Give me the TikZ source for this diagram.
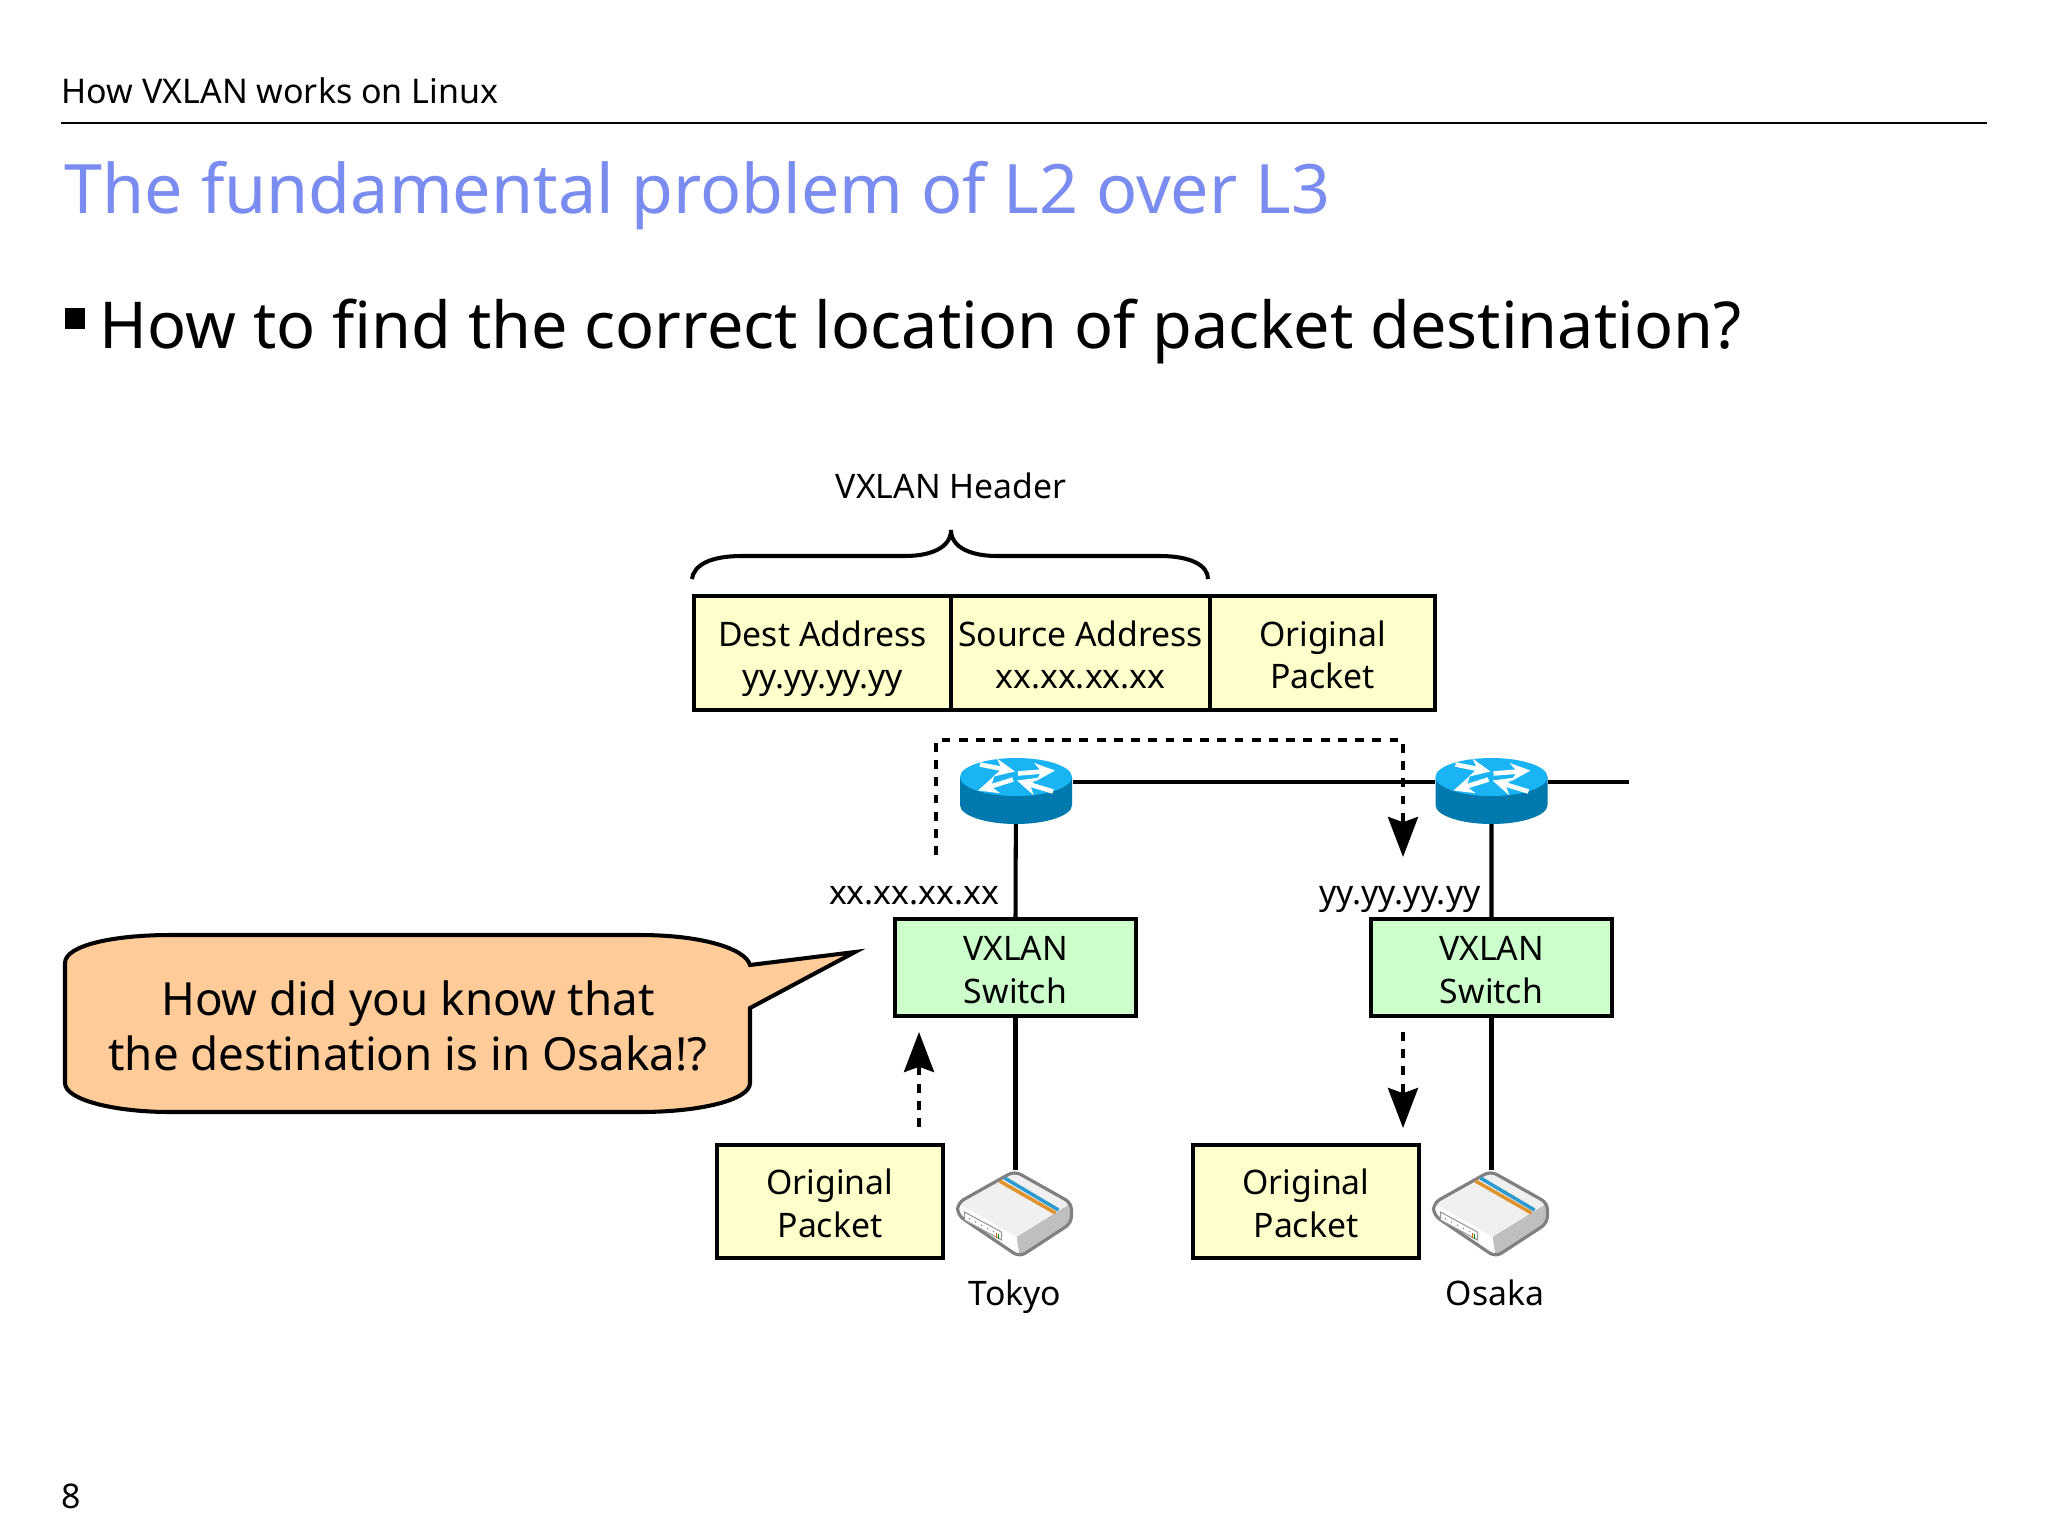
\documentclass[tikz,border=0pt]{standalone}
\usepackage{fontspec}
\setmainfont{Noto Sans}
\usetikzlibrary{arrows.meta}
\definecolor{titleblue}{HTML}{7B8CF0}
\definecolor{boxyellow}{HTML}{FFFFCC}
\definecolor{boxgreen}{HTML}{CCFFCC}
\definecolor{boxorange}{HTML}{FFCC99}
\definecolor{routertop}{HTML}{1AB4F5}
\definecolor{routerside}{HTML}{0079AE}
\definecolor{stripeblue}{HTML}{2E9BD0}
\definecolor{stripeorange}{HTML}{E0922B}
\newcommand{\fsz}[2]{\fontsize{#1}{#2}\selectfont}
\newcommand{\twolines}[2]{\rule{0pt}{11.8pt}#1\\#2\strut}
\tikzset{
  lbl/.style={inner sep=0pt,align=center,font=\fsz{9.6}{12},execute at begin node=\strut},
  tag/.style={lbl,yshift=-.04cm},
  hdr/.style={inner sep=0pt,anchor=base west},
  pktbox/.style={lbl,draw,line width=1.15pt,fill=boxyellow,minimum height=1.13cm},
  swbox/.style={lbl,draw,line width=1.15pt,fill=boxgreen,minimum width=2.41cm,minimum height=.97cm},
  link/.style={line width=1.15pt},
  flow/.style={line width=1.15pt,dash pattern=on 2.5pt off 2.4pt,-{Stealth[length=.4cm,width=.3cm,inset=1.5pt]}},
  hold/.style={inner sep=0pt,minimum width=1.12cm,minimum height=.82cm},
  hostspot/.style={inner sep=0pt,minimum width=1.16cm,minimum height=.86cm},
  routerarrow/.style={white,line width=1.3pt,-{Stealth[length=.2cm,width=.18cm]}},
  routerpic/.pic={
    \fill[routerside] (-56,-5) -- (-56,23) arc[start angle=180,end angle=0,x radius=56,y radius=19] -- (56,-5) -- cycle;
    \fill[routertop] (0,-5) ellipse[x radius=56,y radius=19];
    \draw[routerarrow] (-36,-17.5) -- (-1,-10.5);
    \draw[routerarrow] (2,-8.5) -- (39,-11.5);
    \draw[routerarrow] (-3,-2.5) -- (-38,8.5);
    \draw[routerarrow] (37,9.5) -- (1,-1.5);
  },
  hostpic/.pic={
    \fill[black!6] (-1,-43) -- (56,-11) -- (1,23) -- (-58,-11) -- cycle;
    \fill[black!25] (1,23) -- (56,-11) -- (56,9) -- (4,43) -- cycle;
    \fill[white] (-58,-11) -- (1,23) -- (4,43) -- (-58,1) -- cycle;
    \draw[line width=.9pt,draw=black!50,rounded corners=2pt] (-1,-43) -- (56,-11) -- (56,9) -- (4,43) -- (-58,1) -- (-58,-11) -- cycle;
    \draw[line width=1pt,draw=stripeblue] (-11,-36) -- (43,-4);
    \draw[line width=1pt,draw=stripeorange] (-16,-33) -- (40,-1);
    \draw[line width=.3pt,draw=black!40,fill=white] (-51,-2) -- (-14,18) -- (-14,26) -- (-51,6) -- cycle;
    \foreach \x in {-46,-40,-34,-28,-22}{\fill[black!45] (\x,{(\x+51)*.54+2}) circle[radius=.8];}
    \draw[line width=.4pt,orange!80!black] (-19,19) -- (-19,24);
    \draw[line width=.4pt,green!50!black] (-17,20) -- (-17,25);
  }
}
\begin{document}
\begin{tikzpicture}[x=.01cm,y=-.01cm]
\useasboundingbox (0,0) rectangle (2048,1536);
\fill[white] (0,0) rectangle (2048,1536);

\node[hdr,font=\fsz{9.66}{11}] (pagehead) at (61,103) {How VXLAN works on Linux};
\draw[line width=.65pt] (pagehead.base west |- 0,123) coordinate (ruleleft) -- (1987,123) coordinate (ruleright);
\node[hdr,font=\fsz{19.4}{24},text=titleblue] (pagetitle) at (64,213) {The fundamental problem of L2 over L3};
\fill (65,308) rectangle (85,329);
\node[hdr,font=\fsz{18.4}{22}] (bullet) at (99,348) {How to find the correct location of packet destination?};
\node[hdr,font=\fsz{9.66}{11}] (pageno) at (61,1508) {8};

\node[tag] (vxhead) at (951,486) {VXLAN Header};
\node[pktbox,minimum width=2.57cm] (dest) at (822.5,653) {\twolines{Dest Address}{yy.yy.yy.yy}};
\node[pktbox,minimum width=2.59cm] (source) at (1080.5,653) {\twolines{Source Address}{xx.xx.xx.xx}};
\node[pktbox,minimum width=2.25cm] (orig) at (1322.5,653) {\twolines{Original}{Packet}};
\draw[link] (dest.north west |- 0,579) .. controls (694,565) and (710,556) .. (742,556)
  -- (905,556) .. controls (930,556) and (951,548) .. (951,530)
  .. controls (951,548) and (972,556) .. (997,556) -- (1160,556)
  .. controls (1190,556) and (1208,565) .. (1208,579);

\node[hold] (rt1) at (1016,782) {};
\node[hold] (rt2) at (1491.5,782) {};
\coordinate (wan) at (1629,782);
\node[swbox] (sw1) at (1015.5,967.5) {\twolines{VXLAN}{Switch}};
\node[swbox] (sw2) at (1491.5,967.5) {\twolines{VXLAN}{Switch}};
\node[hostspot] (hs1) at (1015.5,1214) {};
\node[hostspot] (hs2) at (1491.5,1214) {};
\draw[link] (rt1.east) -- (rt2.west) (rt2.east) -- (wan);
\draw[link] (rt1.center) -- (sw1.north) (rt2.center) -- (sw2.north);
\draw[link] (sw1.south) -- (hs1.north) (sw2.south) -- (hs2.north);
\pic at (rt1) {routerpic};
\pic at (rt2) {routerpic};
\pic at (hs1) {hostpic};
\pic at (hs2) {hostpic};

\node[tag] (addr1) at (914,892) {xx.xx.xx.xx};
\node[tag] (addr2) at (1400,892) {yy.yy.yy.yy};
\node[pktbox,minimum width=2.26cm] (pkt1) at (830,1201.5) {\twolines{Original}{Packet}};
\node[pktbox,minimum width=2.26cm] (pkt2) at (1306,1201.5) {\twolines{Original}{Packet}};
\node[tag] (tokyo) at (1015,1293) {Tokyo};
\node[tag] (osaka) at (1495,1293) {Osaka};

\coordinate (tunstart) at (936,855);
\coordinate (tunend) at (1403,857);
\draw[flow] (tunstart) -- (936,740) -- (1403,740) -- (tunend);
\coordinate (upstart) at (919,1127);
\coordinate (upend) at (919,1032);
\draw[flow] (upstart) -- (upend);
\coordinate (dnstart) at (1403,1032);
\coordinate (dnend) at (1403,1128);
\draw[flow] (dnstart) -- (dnend);

\draw[line width=1.15pt,fill=boxorange] (65,963) .. controls (65,945) and (115,935) .. (170,935) -- (640,935)
  .. controls (700,935) and (745,948) .. (750,965) -- (855,952) -- (750,1008) -- (750,1083)
  .. controls (750,1100) and (700,1112) .. (640,1112) -- (170,1112)
  .. controls (115,1112) and (65,1100) .. (65,1083) -- cycle;
\node[inner sep=0pt,align=center,font=\fsz{13}{15.6}] (askme) at (408,1026) {How did you know that\\the destination is in Osaka!?};
\end{tikzpicture}
\end{document}
